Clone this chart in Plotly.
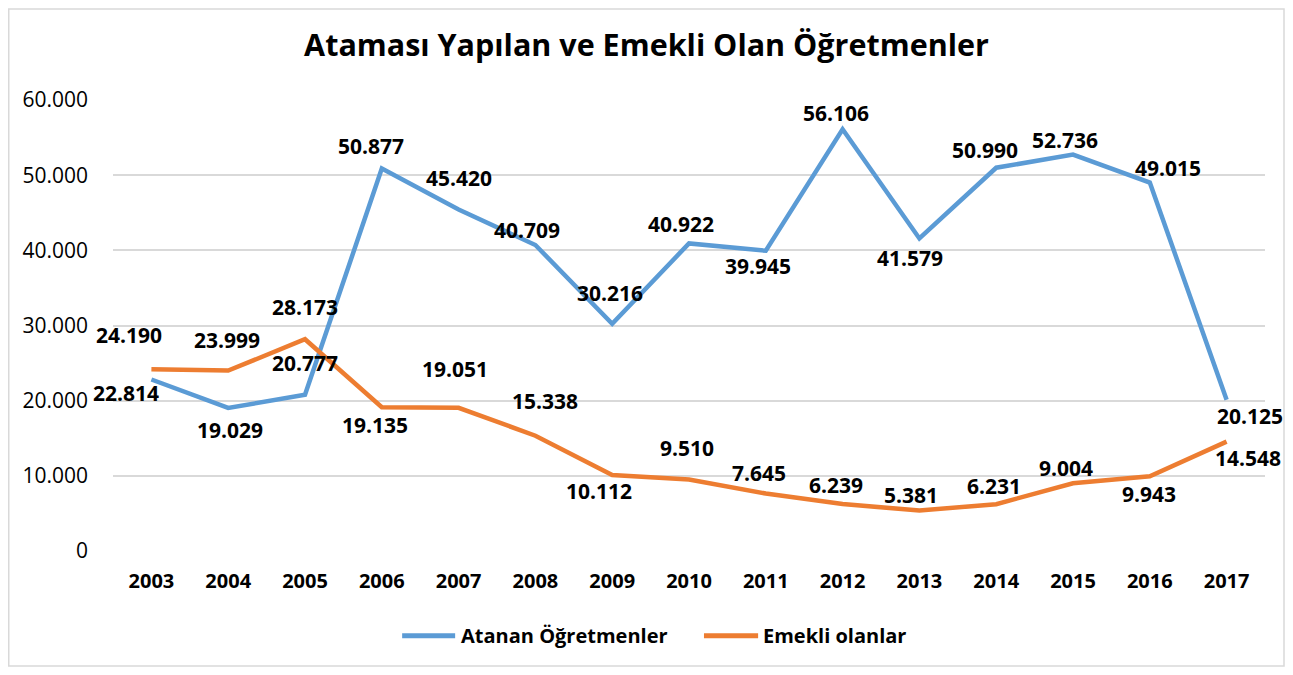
import plotly.graph_objects as go

years = ["2003", "2004", "2005", "2006", "2007", "2008", "2009", "2010",
         "2011", "2012", "2013", "2014", "2015", "2016", "2017"]
atanan = [22814, 19029, 20777, 50877, 45420, 40709, 30216, 40922,
          39945, 56106, 41579, 50990, 52736, 49015, 20125]
emekli = [24190, 23999, 28173, 19135, 19051, 15338, 10112, 9510,
          7645, 6239, 5381, 6231, 9004, 9943, 14548]
y_ticks = [0, 10000, 20000, 30000, 40000, 50000, 60000]
series_names = ["Atanan Öğretmenler", "Emekli olanlar"]

# label offsets in pixels (dx, dy up)
atanan_off = [(-25, -13), (2, -22), (0, 32), (-11, 23), (0, 32), (-8, 15), (-2, 31),
              (-8, 19), (-8, -15), (-7, 16), (-9, -20), (-11, 18), (-8, 15), (18, 15), (23, -16)]
emekli_off = [(-22, 34), (-1, 31), (0, 32), (-7, -18), (-4, 39), (10, 35), (-13, -16),
              (-2, 32), (-7, 21), (-7, 19), (-8, 16), (-2, 18), (-7, 15), (-1, -18), (21, -16)]

BLUE = "#5B9BD5"
ORANGE = "#ED7D31"
FONT = "Open Sans"


def fmt(v):
    return f"{v:,}".replace(",", ".")


fig = go.Figure()
fig.add_trace(go.Scatter(x=years, y=atanan, mode="lines", name=series_names[0],
                         line=dict(color=BLUE, width=4.5), showlegend=False))
fig.add_trace(go.Scatter(x=years, y=emekli, mode="lines", name=series_names[1],
                         line=dict(color=ORANGE, width=4.5), showlegend=False))

annotations = []
for series, offs in ((atanan, atanan_off), (emekli, emekli_off)):
    for i, (v, (dx, dy)) in enumerate(zip(series, offs)):
        annotations.append(dict(x=i, y=v, xref="x", yref="y", text=fmt(v), showarrow=False,
                                xshift=dx, yshift=dy,
                                font=dict(family=FONT, size=21, color="#000000", weight="bold")))

# legend drawn below the plot (line sample + label)
legend_y = -0.188
legend_items = [(series_names[0], BLUE, 0.251, 0.297, 0.3005),
                (series_names[1], ORANGE, 0.513, 0.560, 0.5625)]
shapes = [dict(type="rect", xref="paper", yref="paper",
               x0=-0.0905, x1=1.0165, y0=-0.255, y1=1.202,
               line=dict(color="#D9D9D9", width=1.5), fillcolor="rgba(0,0,0,0)", layer="below")]
for name, col, lx0, lx1, tx in legend_items:
    shapes.append(dict(type="line", xref="paper", yref="paper", x0=lx0, x1=lx1,
                       y0=legend_y, y1=legend_y, line=dict(color=col, width=5)))
    annotations.append(dict(x=tx, y=legend_y, xref="paper", yref="paper", text=name,
                            showarrow=False, xanchor="left", yanchor="middle",
                            font=dict(family=FONT, size=20, color="#000000", weight="bold")))

fig.update_layout(
    width=1277, height=659,
    margin=dict(l=105, r=20, t=92, b=116),
    paper_bgcolor="white", plot_bgcolor="white",
    title=dict(text="<b>Ataması Yapılan ve Emekli Olan Öğretmenler</b>",
               x=0.5, xanchor="center", y=0.944, yanchor="middle",
               font=dict(family=FONT, size=30.5, color="#000000")),
    showlegend=False,
    annotations=annotations,
    shapes=shapes,
)
fig.update_xaxes(type="category", range=[-0.5, 14.5], showgrid=False,
                 showline=False, ticks="", zeroline=False, ticklabelstandoff=16,
                 tickfont=dict(family=FONT, size=20, color="#000000", weight="bold"))
fig.update_yaxes(range=[0, 60000], tickvals=y_ticks,
                 ticktext=[fmt(v) for v in y_ticks],
                 showgrid=True, gridcolor="#D9D9D9", gridwidth=1.5,
                 zeroline=False, showline=False, ticks="", ticklabelstandoff=24,
                 tickfont=dict(family=FONT, size=21, color="#000000"))

fig.write_html("out.html")
